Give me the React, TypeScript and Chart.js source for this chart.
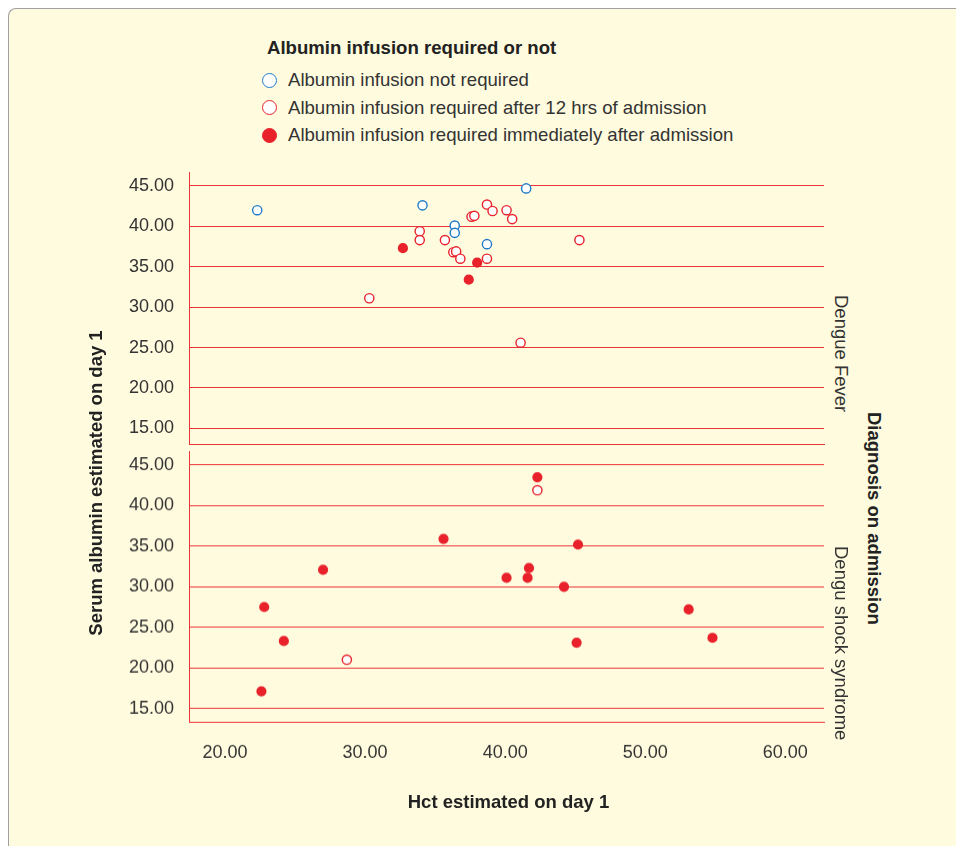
import React, { useEffect, useRef } from 'react';
import { Chart, registerables } from 'chart.js';

Chart.register(...registerables);

// ---------- text ----------
const legendTitle = 'Albumin infusion required or not';
const groupLabels = [
  'Albumin infusion not required',
  'Albumin infusion required after 12 hrs of admission',
  'Albumin infusion required immediately after admission',
];
const panelLabels = ['Dengue Fever', 'Dengu shock syndrome'];
const stripTitle = 'Diagnosis on admission';
const xTitle = 'Hct estimated on day 1';
const yTitle = 'Serum albumin estimated on day 1';

// ---------- ticks ----------
const xTicks = [20, 30, 40, 50, 60];
const yTicks = [15, 20, 25, 30, 35, 40, 45];

// ---------- data: Dengue Fever ----------
const dfNotReqX = [22.3, 34.1, 36.4, 36.4, 38.7, 41.5];
const dfNotReqY = [42.0, 42.6, 40.1, 39.2, 37.8, 44.7];
const dfAfter12X = [38.7, 39.1, 40.1, 40.5, 37.6, 37.8, 33.9, 33.9, 35.7, 36.3, 36.5, 36.8, 38.7, 30.3, 41.1, 45.3];
const dfAfter12Y = [42.7, 41.9, 42.0, 40.9, 41.2, 41.3, 39.4, 38.3, 38.3, 36.8, 36.9, 36.0, 36.0, 31.1, 25.6, 38.3];
const dfImmX = [32.7, 38.0, 37.4];
const dfImmY = [37.3, 35.5, 33.4];

// ---------- data: Dengue shock syndrome ----------
const dssNotReqX: number[] = [];
const dssNotReqY: number[] = [];
const dssAfter12X = [42.3, 28.7];
const dssAfter12Y = [41.9, 21.0];
const dssImmX = [42.3, 35.6, 45.2, 27.0, 41.7, 40.1, 41.6, 44.2, 22.8, 53.1, 24.2, 45.1, 54.8, 22.6];
const dssImmY = [43.5, 35.9, 35.2, 32.1, 32.3, 31.1, 31.1, 30.0, 27.5, 27.2, 23.3, 23.1, 23.7, 17.1];

// ---------- axis ranges ----------
const X_MIN = 17.43;
const X_MAX = 62.76;
const Y_MAX = 46.73;
const Y_MIN_TOP = 13.06;
const Y_MIN_BOT = 13.34;

// ---------- style ----------
const BLUE = '#1F7BC8';
const RED = '#E8212B';
const GRID = '#EC3338';
const BG = '#FFFBDE';
const TEXT = '#333333';
const FONT = '"Liberation Sans", Arial, sans-serif';

const zip = (xs: number[], ys: number[]) => xs.map((x, i) => ({ x, y: ys[i] }));

function makeDatasets(nx: number[], ny: number[], ax: number[], ay: number[], ix: number[], iy: number[]) {
  const common = { pointRadius: 4.6, pointBorderWidth: 1.4, pointHoverRadius: 4.6, showLine: false };
  return [
    { label: groupLabels[0], data: zip(nx, ny), pointBorderColor: BLUE, pointBackgroundColor: '#FFFFFF', ...common },
    { label: groupLabels[1], data: zip(ax, ay), pointBorderColor: RED, pointBackgroundColor: '#FFFFFF', ...common },
    { label: groupLabels[2], data: zip(ix, iy), pointBorderColor: RED, pointBackgroundColor: RED, ...common, pointRadius: 4.4 },
  ];
}

type PanelProps = {
  top: number;
  height: number;
  padTop: number;
  padBottom: number;
  datasets: any[];
  yMin: number;
  showX: boolean;
};

function Panel({ top, height, padTop, padBottom, datasets, yMin, showX }: PanelProps) {
  const ref = useRef<HTMLCanvasElement>(null);
  useEffect(() => {
    const chart = new Chart(ref.current as HTMLCanvasElement, {
      type: 'scatter',
      data: { datasets },
      options: {
        responsive: false,
        animation: false,
        events: [],
        layout: { padding: { left: 0, right: 5, top: padTop, bottom: padBottom } },
        plugins: { legend: { display: false }, tooltip: { enabled: false } },
        scales: {
          x: {
            type: 'linear',
            position: 'bottom',
            min: X_MIN,
            max: X_MAX,
            afterBuildTicks: (s: any) => {
              s.ticks = xTicks.map((v) => ({ value: v }));
            },
            ticks: {
              display: showX,
              padding: 20,
              color: TEXT,
              font: { family: FONT, size: 18 },
              maxRotation: 0,
              callback: (v: any) => Number(v).toFixed(2),
            },
            grid: { display: true, color: 'rgba(0,0,0,0)', drawTicks: false },
            border: { display: true, color: GRID, width: 1 },
            afterFit: (s: any) => {
              s.height = showX ? 45 : 0;
            },
          },
          y: {
            type: 'linear',
            position: 'left',
            min: yMin,
            max: Y_MAX,
            afterBuildTicks: (s: any) => {
              s.ticks = yTicks.map((v) => ({ value: v }));
            },
            ticks: {
              padding: 15,
              color: TEXT,
              font: { family: FONT, size: 18 },
              callback: (v: any) => Number(v).toFixed(2),
            },
            grid: { color: GRID, lineWidth: 1, drawTicks: false },
            border: { display: true, color: GRID, width: 1 },
            afterFit: (s: any) => {
              s.width = 89;
            },
          },
        },
      },
    } as any);
    return () => chart.destroy();
  }, []);
  return (
    <canvas
      ref={ref}
      width={730}
      height={height}
      style={{ position: 'fixed', left: 100, top, width: 730, height }}
    />
  );
}

const fixedText = (extra: React.CSSProperties): React.CSSProperties => ({
  position: 'fixed',
  fontFamily: FONT,
  fontSize: 18.5,
  color: TEXT,
  whiteSpace: 'nowrap',
  lineHeight: '20px',
  ...extra,
});

const rowY = [80, 107.7, 135];

const markerStyle = (i: number): React.CSSProperties => ({
  position: 'fixed',
  left: 261.5,
  top: rowY[i] - 7.5,
  width: 15,
  height: 15,
  boxSizing: 'border-box',
  borderRadius: '50%',
  border: `1.5px solid ${i === 0 ? BLUE : RED}`,
  background: i === 2 ? RED : '#FFFFFF',
});

// chart-area targets (page px): top panel 171.7..444, bottom panel 451..721.7
const PAD = 26;

export default function App() {
  const topSets = makeDatasets(dfNotReqX, dfNotReqY, dfAfter12X, dfAfter12Y, dfImmX, dfImmY);
  const botSets = makeDatasets(dssNotReqX, dssNotReqY, dssAfter12X, dssAfter12Y, dssImmX, dssImmY);
  const topCanvasTop = 171.7 - PAD;
  const topCanvasH = 444 + PAD - topCanvasTop;
  const botCanvasTop = 451 - PAD;
  const botCanvasH = 721.7 + 45 + PAD - botCanvasTop;
  return (
    <div>
      <div
        style={{
          position: 'fixed',
          left: 8,
          top: 8,
          width: 948,
          height: 838,
          boxSizing: 'border-box',
          background: BG,
          borderLeft: '1px solid #A0A0A0',
          borderTop: '1px solid #A0A0A0',
          borderTopLeftRadius: 8,
        }}
      />
      {/* legend */}
      <div style={fixedText({ left: 267, top: 37.7, fontWeight: 'bold', color: '#222', fontSize: 18.6 })}>{legendTitle}</div>
      {groupLabels.map((lab, i) => (
        <React.Fragment key={lab}>
          <div style={markerStyle(i)} />
          <div style={fixedText({ left: 288, top: rowY[i] - 10, fontSize: 18.6 })}>{lab}</div>
        </React.Fragment>
      ))}

      <Panel top={topCanvasTop} height={topCanvasH} padTop={PAD} padBottom={PAD} datasets={topSets} yMin={Y_MIN_TOP} showX={false} />
      <Panel top={botCanvasTop} height={botCanvasH} padTop={PAD} padBottom={PAD} datasets={botSets} yMin={Y_MIN_BOT} showX={true} />

      {/* axis titles */}
      <div style={fixedText({ left: 308.5, top: 792, width: 400, textAlign: 'center', fontWeight: 'bold', color: '#222' })}>
        {xTitle}
      </div>
      <div
        style={fixedText({
          left: 96 - 200,
          top: 483 - 10,
          width: 400,
          height: 20,
          textAlign: 'center',
          fontWeight: 'bold',
          color: '#222',
          transform: 'rotate(-90deg)',
          transformOrigin: '50% 50%',
        })}
      >
        {yTitle}
      </div>

      {/* strip labels */}
      <div style={fixedText({ left: 830.5, top: 295, width: 20, writingMode: 'vertical-rl' })}>{panelLabels[0]}</div>
      <div style={fixedText({ left: 830.5, top: 545.7, width: 20, writingMode: 'vertical-rl' })}>{panelLabels[1]}</div>
      <div style={fixedText({ left: 864, top: 411.7, width: 20, writingMode: 'vertical-rl', fontWeight: 'bold', color: '#222' })}>
        {stripTitle}
      </div>
    </div>
  );
}
